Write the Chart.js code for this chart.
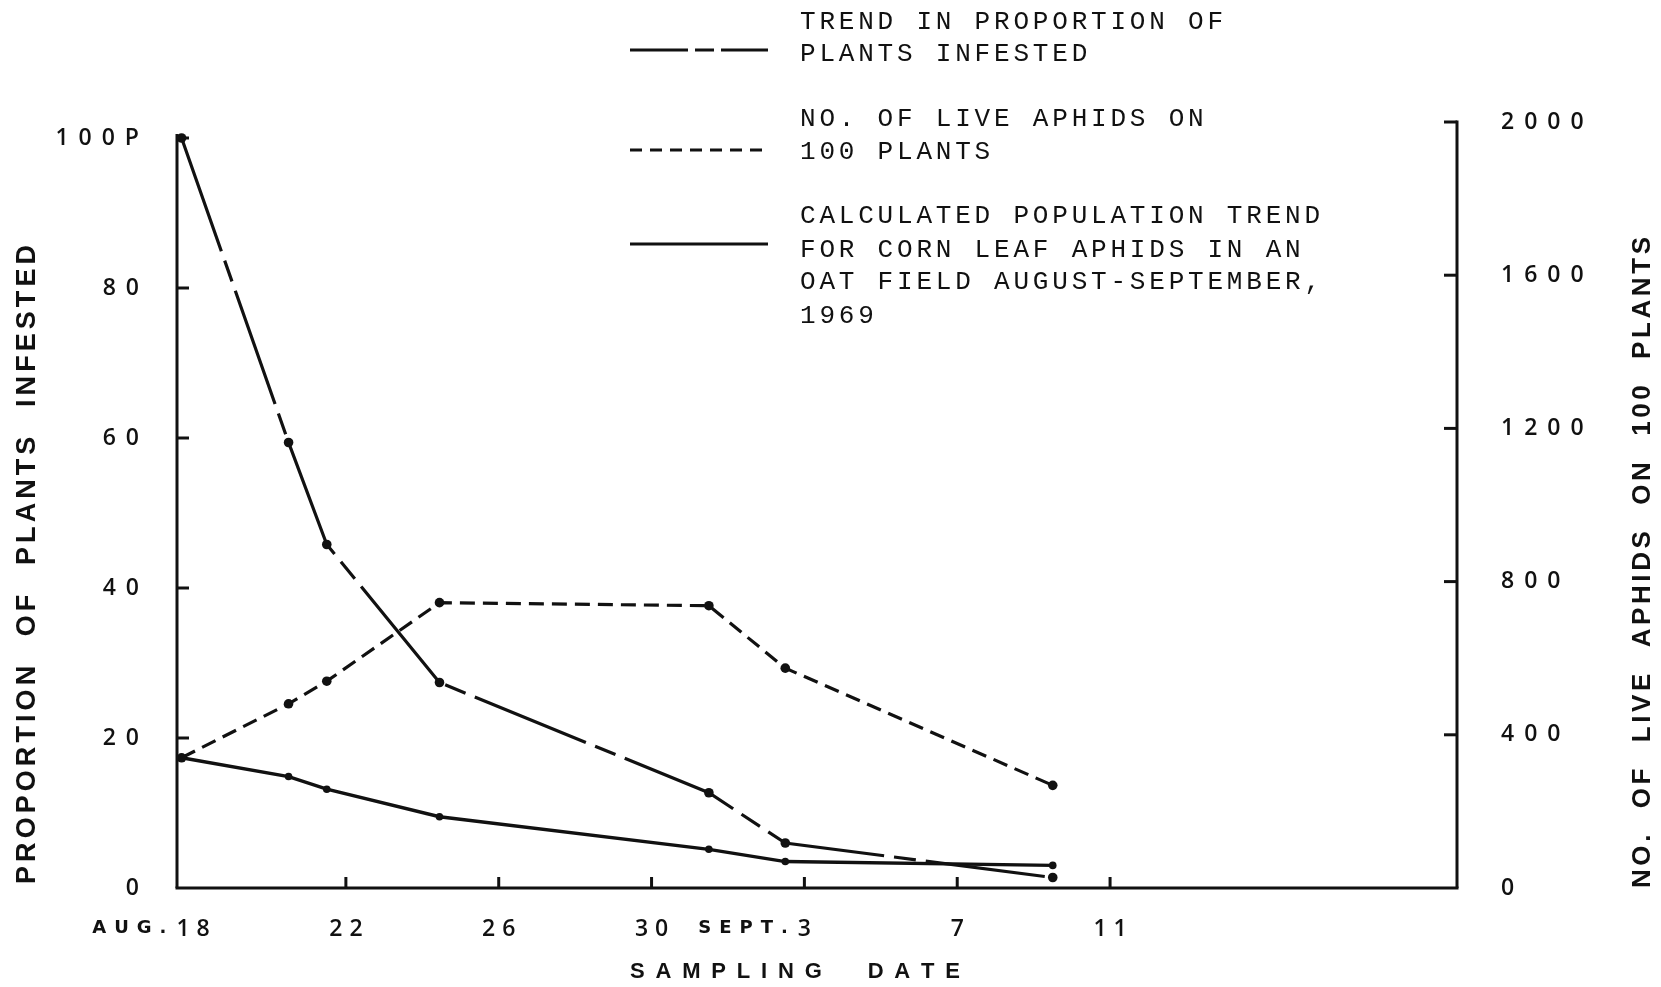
<!DOCTYPE html>
<html>
<head>
<meta charset="utf-8">
<title>Corn leaf aphids in an oat field, 1969</title>
<script src="https://cdn.jsdelivr.net/npm/chart.js@4/dist/chart.umd.min.js"></script>
<style>
  html, body { margin: 0; padding: 0; background: #fff; }
  #wrap { position: relative; width: 1661px; height: 987px; }
</style>
</head>
<body>
<div id="wrap"><canvas id="c"></canvas></div>
<script>
// Sampling dates, as days after August 18, 1969
const samplingDays = [-0.3, 2.5, 3.5, 6.45, 13.5, 15.5, 22.5];
// Proportion of plants infested (per cent, left axis)
const proportionInfested = [100, 59.4, 45.8, 27.4, 12.7, 6.0, 1.4];
// Number of live aphids on 100 plants (right axis)
const liveAphids = [340, 481, 540, 745, 737, 574, 268];
// Calculated population trend (right axis)
const calculatedTrend = [340, 291, 258, 186, 101, 69, 59];

// Axis ticks
const xTickDays = [0, 4, 8, 12, 16, 20, 24];
const xTickLabels = ['AUG.18', '22', '26', '30', 'SEPT.3', '7', '11'];
const leftTickValues = [0, 20, 40, 60, 80, 100];
const leftTickLabels = ['0', '20', '40', '60', '80', '100P'];
const rightTickValues = [0, 400, 800, 1200, 1600, 2000];
const rightTickLabels = ['0', '400', '800', '1200', '1600', '2000'];

// Legend wording
const legendTexts = [
  ['TREND IN PROPORTION OF', 'PLANTS INFESTED'],
  ['NO. OF LIVE APHIDS ON', '100 PLANTS'],
  ['CALCULATED POPULATION TREND', 'FOR CORN LEAF APHIDS IN AN', 'OAT FIELD AUGUST-SEPTEMBER,', '1969']
];
const leftTitle = 'PROPORTION OF PLANTS INFESTED';
const rightTitle = 'NO. OF LIVE APHIDS ON 100 PLANTS';
const bottomTitle = 'SAMPLING DATE';

const INK = '#111';
const NUM_FONT = '"Open Sans", "DejaVu Sans", sans-serif';

function toPoints(values) {
  return samplingDays.map((d, i) => ({ x: d, y: values[i] }));
}

// Text helpers: letter-spaced text drawn glyph by glyph
function spacedWidth(ctx, text, ls, ws) {
  let w = 0;
  for (let i = 0; i < text.length; i++) {
    const ch = text[i];
    w += ctx.measureText(ch).width;
    if (i < text.length - 1) w += ls + (ch === ' ' ? ws : 0);
  }
  return w;
}
function drawSpaced(ctx, text, x, y, ls, ws) {
  let cx = x;
  for (let i = 0; i < text.length; i++) {
    const ch = text[i];
    ctx.fillText(ch, cx, y);
    cx += ctx.measureText(ch).width + ls + (ch === ' ' ? ws : 0);
  }
}
function fitSpacing(ctx, text, length, ws) {
  return (length - spacedWidth(ctx, text, 0, ws)) / (text.length - 1);
}

// Hand-drawn style axes: plain lines with inward tick marks, titles, legend
const axesAndLegend = {
  id: 'axesAndLegend',
  beforeDraw(chart) {
    // spacing for the library-drawn y tick labels
    chart.ctx.letterSpacing = '10px';
  },
  afterDraw(chart) {
    const ctx = chart.ctx;
    const a = chart.chartArea;
    const xs = chart.scales.x, yl = chart.scales.y, yr = chart.scales.y2;
    ctx.save();
    ctx.letterSpacing = '0px';
    ctx.strokeStyle = INK;
    ctx.fillStyle = INK;
    ctx.lineWidth = 3;
    ctx.lineCap = 'butt';
    ctx.setLineDash([]);

    const seg = (x1, y1, x2, y2) => { ctx.beginPath(); ctx.moveTo(x1, y1); ctx.lineTo(x2, y2); ctx.stroke(); };

    // axis lines
    const leftTop = yl.getPixelForValue(leftTickValues[leftTickValues.length - 1]);
    const rightTop = yr.getPixelForValue(rightTickValues[rightTickValues.length - 1]);
    seg(a.left - 1.5, a.bottom, a.right + 1.5, a.bottom);
    seg(a.left, a.bottom, a.left, leftTop - 4);
    seg(a.right, a.bottom, a.right, rightTop - 1.5);

    // inward tick marks
    leftTickValues.slice(1).forEach(v => {
      const py = yl.getPixelForValue(v);
      seg(a.left, py, a.left + 12, py);
    });
    rightTickValues.slice(1).forEach(v => {
      const py = yr.getPixelForValue(v);
      seg(a.right - 13, py, a.right, py);
    });
    xTickDays.slice(1).forEach(d => {
      const px = xs.getPixelForValue(d);
      seg(px, a.bottom, px, a.bottom - 11);
    });

    // x tick labels: day number centred on the tick, month prefix before it
    ctx.textBaseline = 'middle';
    ctx.textAlign = 'left';
    xTickDays.forEach((d, i) => {
      const px = xs.getPixelForValue(d);
      const m = xTickLabels[i].match(/^(\D*)(\d+)$/);
      const prefix = m[1], num = m[2];
      ctx.font = '600 23px ' + NUM_FONT;
      const w = spacedWidth(ctx, num, 7, 0);
      const x0 = px - w / 2;
      drawSpaced(ctx, num, x0, 929, 7, 0);
      if (prefix) {
        ctx.font = 'bold 18px "DejaVu Sans"';
        const pw = spacedWidth(ctx, prefix, 8, 0);
        drawSpaced(ctx, prefix, x0 - 10 - pw, 928, 8, 0);
      }
    });

    // axis titles
    ctx.font = 'bold 27px "Liberation Sans"';
    ctx.save();
    ctx.translate(28, 884);
    ctx.rotate(-Math.PI / 2);
    let ls = fitSpacing(ctx, leftTitle, 639, 14);
    drawSpaced(ctx, leftTitle, 0, 0, ls, 14);
    ctx.restore();

    ctx.font = 'bold 26px "Liberation Sans"';
    ctx.save();
    ctx.translate(1643, 888);
    ctx.rotate(-Math.PI / 2);
    ls = fitSpacing(ctx, rightTitle, 651, 12);
    drawSpaced(ctx, rightTitle, 0, 0, ls, 12);
    ctx.restore();

    ctx.font = 'bold 22px "Liberation Sans"';
    ls = fitSpacing(ctx, bottomTitle, 330, 18);
    drawSpaced(ctx, bottomTitle, 630, 972, ls, 18);

    // legend: line sample to the left of each typed caption
    const ds = chart.data.datasets;
    const sampleY = [50, 150, 244];
    const sampleDash = [[58, 7, 19, 7], [12, 8], []];
    const textY = [[22, 54], [119, 152], [216, 250, 282, 316]];
    ds.forEach((d, i) => {
      ctx.lineWidth = 3;
      ctx.setLineDash(sampleDash[i]);
      seg(630, sampleY[i], 768, sampleY[i]);
      ctx.setLineDash([]);
      ctx.font = '26px "Liberation Mono"';
      legendTexts[i].forEach((line, j) => {
        drawSpaced(ctx, line, 800, textY[i][j], 3.8, 0);
      });
    });
    ctx.restore();
  }
};

const tickFont = { family: NUM_FONT, size: 23, weight: '600' };

new Chart(document.getElementById('c'), {
  type: 'line',
  data: {
    datasets: [
      {
        label: 'TREND IN PROPORTION OF PLANTS INFESTED',
        data: toPoints(proportionInfested),
        yAxisID: 'y',
        borderColor: INK,
        borderWidth: 3.2,
        borderDash: [120, 10, 22, 10],
        pointRadius: 4.8,
        pointBackgroundColor: INK,
        pointBorderWidth: 0,
        tension: 0,
        fill: false
      },
      {
        label: 'NO. OF LIVE APHIDS ON 100 PLANTS',
        data: toPoints(liveAphids),
        yAxisID: 'y2',
        borderColor: INK,
        borderWidth: 3.2,
        borderDash: [15, 8],
        pointRadius: 4.8,
        pointBackgroundColor: INK,
        pointBorderWidth: 0,
        tension: 0,
        fill: false
      },
      {
        label: 'CALCULATED POPULATION TREND',
        data: toPoints(calculatedTrend),
        yAxisID: 'y2',
        borderColor: INK,
        borderWidth: 3.4,
        pointRadius: 3.8,
        pointBackgroundColor: INK,
        pointBorderWidth: 0,
        tension: 0,
        fill: false
      }
    ]
  },
  options: {
    responsive: true,
    maintainAspectRatio: false,
    animation: false,
    events: [],
    layout: { padding: { top: 122, left: 0, right: 0, bottom: 0 } },
    plugins: { legend: { display: false }, tooltip: { enabled: false }, title: { display: false } },
    scales: {
      x: {
        type: 'linear',
        min: -0.42,
        max: 33.08,
        grid: { display: false, drawTicks: false },
        border: { display: false },
        ticks: { display: false },
        afterFit: s => { s.height = 99; }
      },
      y: {
        position: 'left',
        min: 0,
        max: 102.133,
        afterBuildTicks: s => { s.ticks = leftTickValues.map(v => ({ value: v })); },
        ticks: {
          autoSkip: false,
          padding: 28,
          color: INK,
          font: tickFont,
          callback: v => leftTickLabels[leftTickValues.indexOf(v)]
        },
        grid: { display: false, drawTicks: false },
        border: { display: false },
        afterFit: s => { s.width = 177; }
      },
      y2: {
        position: 'right',
        min: 0,
        max: 2000,
        afterBuildTicks: s => { s.ticks = rightTickValues.map(v => ({ value: v })); },
        ticks: {
          autoSkip: false,
          padding: 44,
          color: INK,
          font: tickFont,
          callback: v => rightTickLabels[rightTickValues.indexOf(v)]
        },
        grid: { display: false, drawTicks: false },
        border: { display: false },
        afterFit: s => { s.width = 204; }
      }
    }
  },
  plugins: [axesAndLegend]
});
</script>
</body>
</html>
